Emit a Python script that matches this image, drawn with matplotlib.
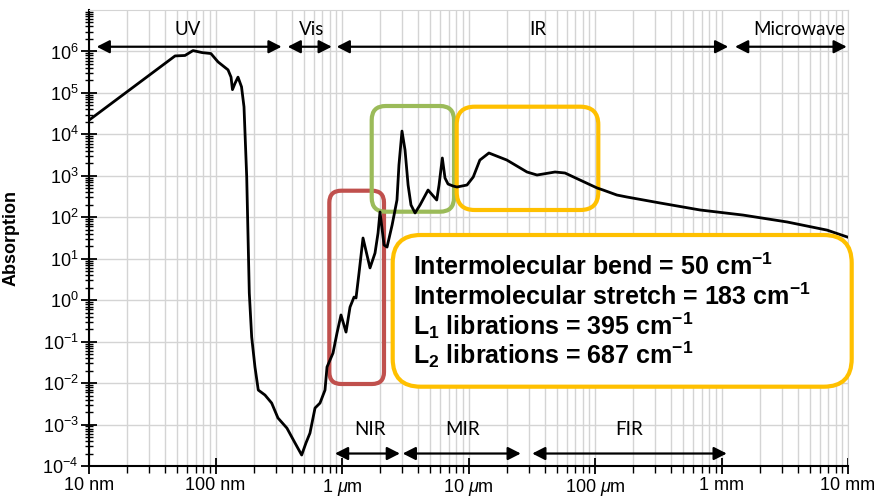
import matplotlib
matplotlib.use('Agg')
import matplotlib.pyplot as plt
from matplotlib.patches import FancyBboxPatch
from matplotlib.ticker import LogLocator, FixedLocator, NullFormatter, LogFormatterSciNotation

plt.rcParams['mathtext.fontset'] = 'custom'
plt.rcParams['mathtext.rm'] = 'Liberation Sans'
plt.rcParams['mathtext.it'] = 'Liberation Sans:italic'
plt.rcParams['mathtext.bf'] = 'Liberation Sans:bold'
plt.rcParams['font.family'] = ['Liberation Sans', 'DejaVu Sans']

# ---------------- data ----------------
wavelength_nm = [10, 47.9, 57.4, 66.4, 78.2, 92.0, 104.7, 125.6, 132.7, 136.2, 142.6, 150.6,
                 160.6, 168.0, 176.5, 185.0, 193.2, 205.1, 217.8, 246.1, 278, 311.7, 367,
                 425, 480, 519, 558, 612, 670, 734, 761, 849, 913, 982, 1076, 1157, 1245,
                 1291, 1363, 1466, 1665, 1824, 1927, 1997, 2150, 2270, 2490, 2720, 2820,
                 2980, 3150, 3330, 3510, 3780, 4140, 4790, 5610, 5850, 6210, 6520, 6890,
                 7540, 8110, 9730, 10900, 12300, 14500, 20100, 29000, 34800, 48300, 57900,
                 76100, 104000, 116000, 149000, 179000, 327000, 676000, 1480000, 3300000,
                 6830000, 1e7]
absorption = [2.2e4, 7.8e5, 8.0e5, 1.05e6, 9.4e5, 8.9e5, 5.6e5, 3.6e5, 2.4e5, 1.2e5, 1.7e5, 2.4e5,
              1.4e5, 4.6e4, 935, 1.49, 0.129, 0.0244, 6.8e-3, 5.15e-3, 3.3e-3, 1.44e-3, 8.2e-4,
              3.6e-4, 1.84e-4, 3.6e-4, 6.2e-4, 2.5e-3, 3.3e-3, 6.8e-3, 0.0244, 0.053, 0.161, 0.44,
              0.17, 0.68, 1.19, 1.13, 4.5, 31.6, 6.0, 13.7, 41.7, 134, 21.4, 19.1, 65, 261, 1825,
              1.2e4, 4190, 600, 198, 127, 198, 454, 261, 600, 2690, 885, 634, 568, 537, 600, 935,
              2400, 3550, 2400, 1236, 1045, 1236, 1170, 792, 508, 454, 344, 308, 221, 150, 113,
              77, 49, 33]

xtick_vals = [10, 100, 1e3, 1e4, 1e5, 1e6, 1e7]
xtick_labels = ['10 nm', '100 nm', r'1 $\mu$m', r'10 $\mu$m', r'100 $\mu$m', '1 mm', '10 mm']

top_regions = ['UV', 'Vis', 'IR', 'Microwave']
top_ranges = [(11.5, 333), (372, 830), (908, 1.13e6), (1.28e6, 9.77e6)]
top_label_x = [60, 575, 35600, 4.15e6]

bottom_regions = ['NIR', 'MIR', 'FIR']
bottom_ranges = [(880, 2870), (3020, 25900), (31900, 1.10e6)]
bottom_label_x = [1660, 9000, 187000]

box_lines = [r'Intermolecular bend = 50 cm$^{\mathbf{-1}}$',
             r'Intermolecular stretch = 183 cm$^{\mathbf{-1}}$',
             r'L$_{\mathbf{1}}$ librations = 395 cm$^{\mathbf{-1}}$',
             r'L$_{\mathbf{2}}$ librations = 687 cm$^{\mathbf{-1}}$']

# ---------------- figure ----------------
W, H = 877, 497
fig = plt.figure(figsize=(W / 100, H / 100), dpi=100)
ax = fig.add_axes([89 / W, 1 - 466 / H, (848 - 89) / W, (466 - 10) / H])

ax.set_xscale('log')
ax.set_yscale('log')
ax.set_xlim(10, 1e7)
ax.set_ylim(1e-4, 1e7)

ax.plot(wavelength_nm, absorption, color='black', lw=2.0, zorder=4, solid_joinstyle='round')

# ticks
ax.xaxis.set_major_locator(FixedLocator(xtick_vals))
ax.set_xticklabels(xtick_labels)
ax.xaxis.set_minor_locator(LogLocator(base=10, subs=range(2, 10), numticks=30))
ax.xaxis.set_minor_formatter(NullFormatter())
ax.yaxis.set_major_locator(FixedLocator([10.0 ** k for k in range(-4, 7)]))
ax.yaxis.set_major_formatter(LogFormatterSciNotation())
ax.yaxis.set_minor_locator(LogLocator(base=10, subs=range(2, 10), numticks=30))
ax.yaxis.set_minor_formatter(NullFormatter())

ax.tick_params(axis='x', which='major', direction='inout', length=12, width=1.3, labelsize=13, pad=2)
ax.tick_params(axis='x', which='minor', direction='out', length=5, width=1.0)
ax.tick_params(axis='y', which='major', direction='inout', length=11, width=1.3, labelsize=13, pad=2)
ax.tick_params(axis='y', which='minor', direction='inout', length=6, width=1.0)

ax.grid(True, which='major', axis='both', color='#d4d4d4', lw=1.0)
ax.grid(True, which='minor', axis='x', color='#d4d4d4', lw=1.0)
ax.set_axisbelow(True)

for s in ['top', 'right']:
    ax.spines[s].set_color('#d4d4d4')
for s in ['left', 'bottom']:
    ax.spines[s].set_color('black')
    ax.spines[s].set_linewidth(1.5)

ax.set_ylabel('Absorption', fontsize=13, fontweight='bold')
ax.yaxis.set_label_coords(-0.091, 0.5)

# region arrows
arrow_kw = dict(arrowstyle='<|-|>,head_length=0.55,head_width=0.28', color='black', lw=1.6,
                shrinkA=0, shrinkB=0, mutation_scale=14)
y_top_arrow = 1.3e6
y_top_text = 3.3e6
for name, (a, b), lx in zip(top_regions, top_ranges, top_label_x):
    ax.annotate('', xy=(a, y_top_arrow), xytext=(b, y_top_arrow), arrowprops=arrow_kw,
                annotation_clip=False)
    ax.text(lx, y_top_text, name, ha='center', va='center', fontsize=13.5, family='Lato')

y_bot_arrow = 2.0e-4
y_bot_text = 7.4e-4
for name, (a, b), lx in zip(bottom_regions, bottom_ranges, bottom_label_x):
    ax.annotate('', xy=(a, y_bot_arrow), xytext=(b, y_bot_arrow), arrowprops=arrow_kw,
                annotation_clip=False)
    ax.text(lx, y_bot_text, name, ha='center', va='center', fontsize=13.5, family='Lato')

# highlight boxes (in inches, figure space)
def box(px0, py0, px1, py1, color, r, fill=False, z=3):
    p = FancyBboxPatch((px0 / 100, (H - py1) / 100), (px1 - px0) / 100, (py1 - py0) / 100,
                       boxstyle=f'round,pad=0,rounding_size={r}', transform=fig.dpi_scale_trans,
                       facecolor='white' if fill else 'none', edgecolor=color, lw=3.0,
                       zorder=z, clip_on=False)
    ax.add_patch(p)

box(329.3, 190.7, 384, 384, '#C0504D', 0.12)
box(371.7, 106, 454, 211.7, '#9BBB59', 0.14)
box(456.7, 106.7, 598.3, 210, '#FFC000', 0.18)
box(392.7, 235, 851.7, 386.7, '#FFC000', 0.28, fill=True, z=5)

for i, line in enumerate(box_lines):
    base = [275, 305, 335, 364][i]
    fig.text(412.7 / W, 1 - base / H, line, ha='left', va='baseline', fontsize=18,
             fontweight='bold', zorder=6)

fig.savefig('out.png', dpi=100)
